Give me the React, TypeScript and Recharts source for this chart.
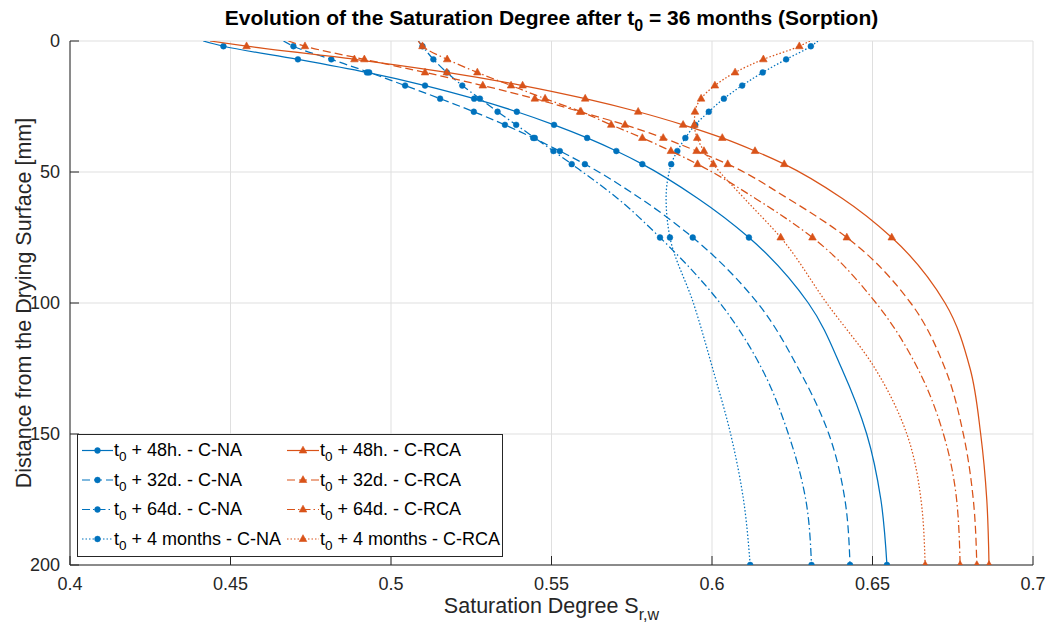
import React from 'react';
import { ScatterChart, Scatter, XAxis, YAxis, CartesianGrid } from 'recharts';

// Depth below the drying surface [mm]
const depths = [0, 2, 7, 12, 17, 22, 27, 32, 37, 42, 47, 60, 75, 100, 125, 150, 175, 200];
const markerDepths = [2, 7, 12, 17, 22, 27, 32, 37, 42, 47, 75, 200];

const xTicks = [0.4, 0.45, 0.5, 0.55, 0.6, 0.65, 0.7];
const yTicks = [0, 50, 100, 150, 200];

// Saturation degree S_r,w — C-NA
const cna48h = [0.4415, 0.4478, 0.4710, 0.4925, 0.5106, 0.5259, 0.5392, 0.5508, 0.5611, 0.5702, 0.5783, 0.5955, 0.6115, 0.6300, 0.6404, 0.6482, 0.6526, 0.6545];
const cna32d = [0.4665, 0.4696, 0.4814, 0.4932, 0.5044, 0.5153, 0.5258, 0.5355, 0.5443, 0.5526, 0.5604, 0.5776, 0.5940, 0.6142, 0.6269, 0.6364, 0.6414, 0.6430];
const cna64d = [0.5085, 0.5098, 0.5132, 0.5174, 0.5222, 0.5277, 0.5332, 0.5390, 0.5448, 0.5506, 0.5563, 0.5705, 0.5838, 0.6025, 0.6155, 0.6238, 0.6292, 0.6310];
const cna4m = [0.6330, 0.6308, 0.6231, 0.6158, 0.6094, 0.6037, 0.5990, 0.5948, 0.5917, 0.5892, 0.5873, 0.5857, 0.5869, 0.5942, 0.6002, 0.6058, 0.6098, 0.6119];

// Saturation degree S_r,w — C-RCA
const crca48h = [0.4436, 0.4550, 0.4886, 0.5174, 0.5410, 0.5605, 0.5770, 0.5910, 0.6032, 0.6134, 0.6225, 0.6405, 0.6560, 0.6726, 0.6804, 0.6837, 0.6856, 0.6863];
const crca32d = [0.4680, 0.4732, 0.4917, 0.5106, 0.5286, 0.5448, 0.5589, 0.5729, 0.5848, 0.5952, 0.6049, 0.6235, 0.6420, 0.6619, 0.6726, 0.6783, 0.6814, 0.6825];
const crca64d = [0.5085, 0.5098, 0.5175, 0.5269, 0.5374, 0.5480, 0.5592, 0.5686, 0.5783, 0.5872, 0.5955, 0.6134, 0.6313, 0.6511, 0.6641, 0.6721, 0.6762, 0.6773];
const crca4m = [0.6305, 0.6272, 0.6160, 0.6072, 0.6009, 0.5966, 0.5947, 0.5945, 0.5954, 0.5975, 0.6004, 0.6100, 0.6214, 0.6357, 0.6508, 0.6607, 0.6651, 0.6664];

const seriesLabels = [
  '+ 48h. - C-NA', '+ 32d. - C-NA', '+ 64d. - C-NA', '+ 4 months - C-NA',
  '+ 48h. - C-RCA', '+ 32d. - C-RCA', '+ 64d. - C-RCA', '+ 4 months - C-RCA',
];

const BLUE = '#0072BD';
const ORANGE = '#D95319';
const AXIS = '#262626';
const FONT = '"Liberation Sans", Arial, Helvetica, sans-serif';

const DASHES: (string | undefined)[] = [undefined, '8 4', '8 3 1.5 3', '1.5 2'];

const seriesValues = [cna48h, cna32d, cna64d, cna4m, crca48h, crca32d, crca64d, crca4m];

const series = seriesValues.map((vals, i) => ({
  name: seriesLabels[i],
  color: i < 4 ? BLUE : ORANGE,
  marker: i < 4 ? 'circle' : 'triangle',
  dash: DASHES[i % 4],
  data: depths.map((d, k) => ({ x: vals[k], d, m: markerDepths.includes(d) })),
}));

const Marker = ({ kind, cx, cy, color }: { kind: string; cx: number; cy: number; color: string }) => {
  if (kind === 'circle') return <circle cx={cx} cy={cy} r={2.9} fill={color} stroke={color} strokeWidth={0.5} />;
  const pts = `${cx},${cy - 4.3} ${cx - 3.8},${cy + 2.5} ${cx + 3.8},${cy + 2.5}`;
  return <polygon points={pts} fill={color} stroke={color} strokeWidth={0.6} />;
};

const makeShape = (kind: string, color: string) => (props: any) => {
  const { cx, cy, payload } = props;
  if (!payload || !payload.m || cx == null || cy == null) return <g />;
  return <Marker kind={kind} cx={cx} cy={cy} color={color} />;
};

const fmt = (v: number) => String(Number(v.toFixed(2)));

const Legend = () => {
  const boxX = 77.5, boxY = 434.5, boxW = 425, boxH = 122;
  const cols = [{ lx1: 82, lx2: 113, tx: 114 }, { lx1: 287, lx2: 319, tx: 320 }];
  return (
    <g>
      <rect x={boxX} y={boxY} width={boxW} height={boxH} fill="#fff" stroke={AXIS} strokeWidth={1} />
      {series.map((s, i) => {
        const col = cols[i < 4 ? 0 : 1];
        const row = i % 4;
        const y = 450.5 + row * 29.5;
        const mx = (col.lx1 + col.lx2) / 2;
        return (
          <g key={s.name}>
            <line x1={col.lx1} y1={y} x2={col.lx2} y2={y} stroke={s.color} strokeWidth={1.2} strokeDasharray={s.dash} />
            <Marker kind={s.marker} cx={mx} cy={y} color={s.color} />
            <text x={col.tx} y={y + 5.5} fontSize={18} fill="#000" style={{ whiteSpace: 'pre' }}>
              t<tspan dy={5} fontSize={13.5}>0</tspan>
              <tspan dy={-5} fontSize={18}>{' ' + s.name}</tspan>
            </text>
          </g>
        );
      })}
    </g>
  );
};

export default function App() {
  return (
    <div style={{ position: 'absolute', left: 0, top: 0, width: 1049, height: 630, background: '#fff', fontFamily: FONT }}>
      <ScatterChart width={1049} height={630} margin={{ top: 41, right: 16, bottom: 35, left: 10 }} style={{ fontFamily: FONT }}>
        <CartesianGrid stroke="#dfdfdf" strokeWidth={1} />
        <XAxis
          type="number"
          dataKey="x"
          domain={[0.4, 0.7]}
          ticks={xTicks}
          interval={0}
          allowDataOverflow
          height={30}
          tickSize={-9}
          tickMargin={21}
          stroke={AXIS}
          tickLine={{ stroke: AXIS }}
          tick={{ fill: AXIS, fontSize: 18, fontFamily: FONT }}
          tickFormatter={fmt}
        />
        <YAxis
          type="number"
          dataKey="d"
          domain={[0, 200]}
          reversed
          ticks={yTicks}
          interval={0}
          allowDataOverflow
          width={60}
          tickSize={-9}
          tickMargin={19}
          stroke={AXIS}
          tickLine={{ stroke: AXIS }}
          tick={{ fill: AXIS, fontSize: 18, fontFamily: FONT }}
        />
        {series.map((s) => (
          <Scatter
            key={s.name}
            name={s.name}
            data={s.data}
            fill={s.color}
            line={{ stroke: s.color, strokeWidth: 1.25, strokeDasharray: s.dash }}
            lineType="joint"
            lineJointType="monotoneY"
            shape={makeShape(s.marker, s.color)}
            isAnimationActive={false}
          />
        ))}
      </ScatterChart>
      <svg width={1049} height={630} style={{ position: 'absolute', left: 0, top: 0, pointerEvents: 'none', fontFamily: FONT }}>
        <text x={551.5} y={25} textAnchor="middle" fontWeight="bold" fontSize={21} fill="#000" style={{ whiteSpace: 'pre' }}>
          Evolution of the Saturation Degree after t<tspan dy={6} fontSize={16}>0</tspan>
          <tspan dy={-6} fontSize={21}> = 36 months (Sorption)</tspan>
        </text>
        <text x={551.5} y={613} textAnchor="middle" fontSize={21.5} fill={AXIS} style={{ whiteSpace: 'pre' }}>
          Saturation Degree S<tspan dy={7} fontSize={16}>r,w</tspan>
        </text>
        <text x={31} y={303} textAnchor="middle" fontSize={21.5} fill={AXIS} transform="rotate(-90 31 303)">
          Distance from the Drying Surface [mm]
        </text>
        <Legend />
      </svg>
    </div>
  );
}
